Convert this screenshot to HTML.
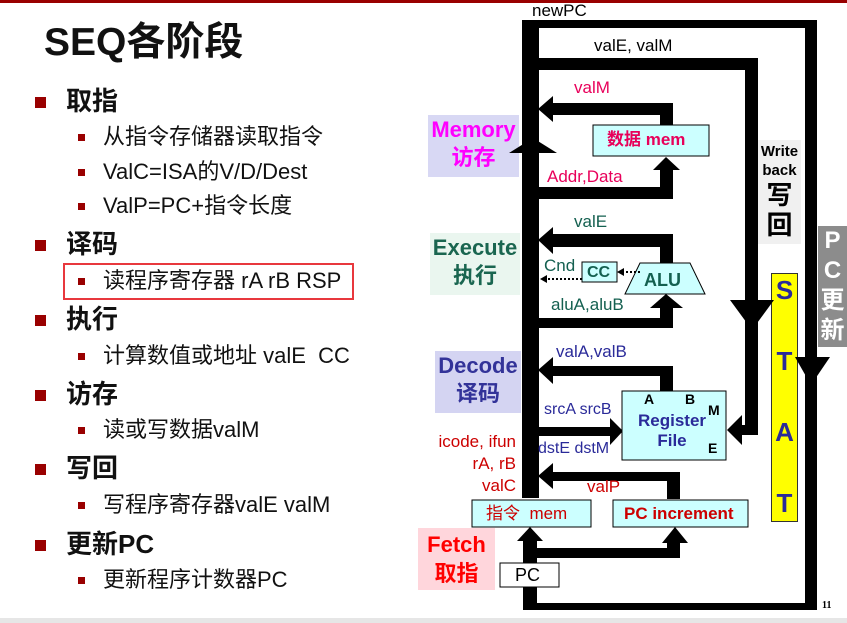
<!DOCTYPE html>
<html><head><meta charset="utf-8"><style>
body{margin:0;width:847px;height:623px;overflow:hidden;background:#fff;position:relative;font-family:"Liberation Sans","Noto Sans CJK SC",sans-serif;}
.a{position:absolute;white-space:nowrap;}
.b1{position:absolute;left:35px;width:11px;height:11px;background:#990000;}
.b2{position:absolute;left:78px;width:7px;height:7px;background:#990000;}
.t1{position:absolute;left:66px;font-size:26px;font-weight:bold;color:#111;line-height:28px;}
.t2{position:absolute;left:103px;font-size:22px;color:#111;line-height:24px;}
</style></head><body>
<div class="a" style="left:0;top:0;width:847px;height:3px;background:#990000"></div>
<div class="a" style="left:0;top:618px;width:847px;height:5px;background:#e6e6e6"></div>
<div class="a" style="left:44px;top:20px;font-size:39px;font-weight:bold;color:#111;line-height:46px">SEQ各阶段</div>

<div class="b1" style="top:97px"></div><div class="t1" style="top:87px">取指</div>
<div class="b2" style="top:134px"></div><div class="t2" style="top:125px">从指令存储器读取指令</div>
<div class="b2" style="top:169px"></div><div class="t2" style="top:160px">ValC=ISA的V/D/Dest</div>
<div class="b2" style="top:203px"></div><div class="t2" style="top:194px">ValP=PC+指令长度</div>
<div class="b1" style="top:240px"></div><div class="t1" style="top:230px">译码</div>
<div class="a" style="left:63px;top:263px;width:287px;height:33px;border:2px solid #e8383d"></div>
<div class="b2" style="top:278px"></div><div class="t2" style="top:269px">读程序寄存器 rA rB RSP</div>
<div class="b1" style="top:315px"></div><div class="t1" style="top:305px">执行</div>
<div class="b2" style="top:353px"></div><div class="t2" style="top:344px">计算数值或地址 valE&nbsp; CC</div>
<div class="b1" style="top:390px"></div><div class="t1" style="top:380px">访存</div>
<div class="b2" style="top:427px"></div><div class="t2" style="top:418px">读或写数据valM</div>
<div class="b1" style="top:464px"></div><div class="t1" style="top:454px">写回</div>
<div class="b2" style="top:502px"></div><div class="t2" style="top:493px">写程序寄存器valE valM</div>
<div class="b1" style="top:540px"></div><div class="t1" style="top:530px">更新PC</div>
<div class="b2" style="top:577px"></div><div class="t2" style="top:568px">更新程序计数器PC</div>

<div class="a" style="left:428px;top:115px;width:91px;height:62px;background:#d8d8f4"></div>
<div class="a" style="left:430px;top:233px;width:90px;height:62px;background:#eaf6ef"></div>
<div class="a" style="left:435px;top:351px;width:86px;height:62px;background:#d4d4f2"></div>
<div class="a" style="left:418px;top:528px;width:77px;height:62px;background:#ffd6dc"></div>
<div class="a" style="left:758px;top:140px;width:43px;height:104px;background:#f0f0f0"></div>
<div class="a" style="left:818px;top:226px;width:29px;height:121px;background:#8c8c8c"></div>
<div class="a" style="left:771px;top:273px;width:25px;height:247px;background:#ffff00;border:1px solid #333"></div>

<svg class="a" style="left:0;top:0" width="847" height="623">
<g fill="#000">
<rect x="522" y="20" width="17" height="478"/>
<rect x="522" y="20" width="295" height="8"/>
<rect x="805" y="20" width="12" height="590"/>
<rect x="523" y="603" width="294" height="7"/>
<polygon points="795,357 830,357 811,385"/>
<polygon points="517,587 543,587 530,570"/><rect x="523" y="587" width="14" height="20"/>
<rect x="539" y="58" width="219" height="12"/>
<rect x="745" y="58" width="13" height="377"/>
<polygon points="730,300 774,300 752,330"/>
<rect x="738" y="425" width="20" height="10"/>
<polygon points="742,415 742,445 727,430"/>
<polygon points="509,153 557,153 533,138"/>
<rect x="550" y="103" width="123" height="12"/><rect x="660" y="103" width="13" height="22"/>
<polygon points="553,96 553,122 538,109"/>
<rect x="539" y="187" width="134" height="12"/><rect x="660" y="168" width="13" height="31"/>
<polygon points="653,170 680,170 666,157"/>
<rect x="550" y="234" width="123" height="13"/><rect x="660" y="234" width="13" height="30"/>
<polygon points="553,227 553,254 538,240"/>
<rect x="539" y="318" width="134" height="10"/><rect x="660" y="305" width="13" height="23"/>
<polygon points="650,308 683,308 666,294"/>
<rect x="550" y="366" width="123" height="10"/><rect x="660" y="366" width="13" height="25"/>
<polygon points="553,357 553,384 538,370"/>
<rect x="539" y="427" width="72" height="9"/>
<polygon points="610,418 610,445 623,431"/>
<rect x="550" y="472" width="130" height="9"/><rect x="667" y="472" width="13" height="27"/>
<polygon points="553,463 553,489 538,476"/>
<rect x="523" y="538" width="14" height="25"/>
<polygon points="517,541 543,541 530,527"/>
<rect x="523" y="548" width="157" height="10"/><rect x="667" y="540" width="13" height="18"/>
<polygon points="662,543 688,543 675,527"/>
</g>
<rect x="593" y="125" width="116" height="31" fill="#ccffff" stroke="#000"/>
<rect x="582" y="262" width="35" height="20" fill="#ccffff" stroke="#000"/>
<polygon points="640,263 690,263 705,294 625,294" fill="#ccffff" stroke="#000"/>
<line x1="640" y1="272" x2="622" y2="272" stroke="#000" stroke-dasharray="2,2" stroke-width="2"/>
<polygon points="617,272 624,268 624,276"/>
<line x1="582" y1="279" x2="546" y2="279" stroke="#000" stroke-dasharray="2,2" stroke-width="2"/>
<polygon points="540,279 547,275 547,283"/>
<rect x="622" y="391" width="104" height="69" fill="#ccffff" stroke="#000"/>
<rect x="472" y="500" width="119" height="27" fill="#ccffff" stroke="#000"/>
<rect x="613" y="500" width="135" height="27" fill="#ccffff" stroke="#000"/>
<rect x="500" y="563" width="59" height="24" fill="#fff" stroke="#000"/>
</svg>

<div class="a" style="left:532px;top:1px;font-size:17px;line-height:20px">newPC</div>
<div class="a" style="left:594px;top:36px;font-size:17px;line-height:20px">valE, valM</div>
<div class="a" style="left:574px;top:78px;font-size:17px;color:#e8005a;line-height:20px">valM</div>
<div class="a" style="left:547px;top:167px;font-size:17px;color:#e8005a;line-height:20px">Addr,Data</div>
<div class="a" style="left:607px;top:130px;font-size:17px;font-weight:bold;color:#e8005a;line-height:20px">数据 mem</div>
<div class="a" style="left:574px;top:212px;font-size:17px;color:#146050;line-height:20px">valE</div>
<div class="a" style="left:544px;top:256px;font-size:17px;color:#146050;line-height:20px">Cnd</div>
<div class="a" style="left:587px;top:263px;font-size:16px;font-weight:bold;color:#146050;line-height:20px">CC</div>
<div class="a" style="left:644px;top:269px;font-size:18px;font-weight:bold;color:#146050;line-height:22px">ALU</div>
<div class="a" style="left:551px;top:295px;font-size:17px;color:#146050;line-height:20px">aluA,aluB</div>
<div class="a" style="left:556px;top:342px;font-size:17px;color:#2a2a99;line-height:20px">valA,valB</div>
<div class="a" style="left:544px;top:400px;font-size:16px;color:#2a2a99;line-height:20px">srcA srcB</div>
<div class="a" style="left:538px;top:439px;font-size:16px;color:#2a2a99;line-height:20px">dstE dstM</div>
<div class="a" style="left:644px;top:391px;font-size:14px;font-weight:bold;line-height:16px">A</div>
<div class="a" style="left:685px;top:391px;font-size:14px;font-weight:bold;line-height:16px">B</div>
<div class="a" style="left:708px;top:402px;font-size:14px;font-weight:bold;line-height:16px">M</div>
<div class="a" style="left:708px;top:440px;font-size:14px;font-weight:bold;line-height:16px">E</div>
<div class="a" style="left:636px;top:411px;font-size:17px;font-weight:bold;color:#2a2a99;line-height:20px;text-align:center;width:72px">Register<br>File</div>
<div class="a" style="left:416px;top:431px;width:100px;text-align:right;font-size:17px;color:#cc0000;line-height:22px">icode, ifun<br>rA, rB<br>valC</div>
<div class="a" style="left:587px;top:477px;font-size:17px;color:#cc0000;line-height:20px">valP</div>
<div class="a" style="left:486px;top:503px;font-size:17px;color:#cc0000;line-height:22px">指令&nbsp; mem</div>
<div class="a" style="left:624px;top:503px;font-size:17px;font-weight:bold;color:#cc0000;line-height:22px">PC increment</div>
<div class="a" style="left:515px;top:564px;font-size:18px;line-height:22px">PC</div>

<div class="a" style="left:428px;top:116px;font-size:22px;font-weight:bold;color:#ff00ff;line-height:28px;width:91px;text-align:center">Memory<br>访存</div>
<div class="a" style="left:430px;top:234px;font-size:22px;font-weight:bold;color:#1a6650;line-height:28px;width:90px;text-align:center">Execute<br>执行</div>
<div class="a" style="left:435px;top:352px;font-size:22px;font-weight:bold;color:#333399;line-height:28px;width:86px;text-align:center">Decode<br>译码</div>
<div class="a" style="left:418px;top:530px;font-size:22px;font-weight:bold;color:#ff0000;line-height:29px;width:77px;text-align:center">Fetch<br>取指</div>
<div class="a" style="left:758px;top:142px;width:43px;text-align:center;font-size:15px;font-weight:bold;line-height:19px">Write<br>back</div>
<div class="a" style="left:758px;top:180px;width:43px;text-align:center;font-size:26px;font-weight:bold;line-height:30px">写<br>回</div>
<div class="a" style="left:771px;top:255px;width:27px;text-align:center;font-size:26px;font-weight:bold;color:#2a2a99;line-height:71px">S<br>T<br>A<br>T</div>
<div class="a" style="left:818px;top:226px;width:29px;text-align:center;font-size:24px;font-weight:bold;color:#fff;line-height:30px">P<br>C<br>更<br>新</div>
<div class="a" style="left:822px;top:600px;font-size:10px;font-weight:bold;font-family:'Liberation Serif',serif">11</div>
</body></html>
